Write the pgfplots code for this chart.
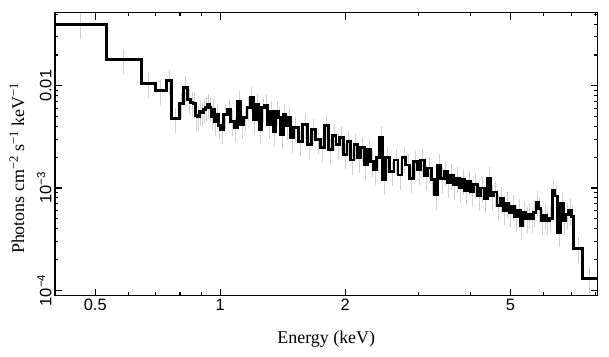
\documentclass[border=0pt]{standalone}
\usepackage{fontspec}
\setmainfont{Liberation Serif}
\newfontfamily\tickfont{Liberation Sans}
\usepackage{pgfplots}
\pgfplotsset{compat=1.18}
\usepackage{pgfplotstable}

\pgfplotstableread{
xl xc y
0.400 0.461 0.0400
0.531 0.585 0.0180
0.645 0.670 0.0106
0.697 0.719 0.0090
0.741 0.753 0.0112
0.765 0.781 0.00478
0.798 0.806 0.00667
0.814 0.824 0.0097
0.834 0.842 0.00729
0.85 0.855 0.00681
0.86 0.865 0.00667
0.87 0.875 0.00508
0.88 0.885 0.00497
0.89 0.895 0.00556
0.90 0.905 0.00543
0.91 0.915 0.00582
0.92 0.925 0.00608
0.93 0.935 0.00651
0.94 0.945 0.00608
0.95 0.955 0.00497
0.96 0.965 0.00582
0.97 0.975 0.00444
0.98 0.985 0.00520
0.99 0.995 0.00406
1.00 1.01 0.00371
1.02 1.03 0.00520
1.04 1.05 0.00582
1.06 1.07 0.00444
1.08 1.09 0.00388
1.10 1.11 0.00697
1.12 1.13 0.00415
1.14 1.15 0.00486
1.16 1.17 0.00608
1.18 1.19 0.00762
1.20 1.21 0.00464
1.22 1.23 0.00651
1.24 1.25 0.00371
1.26 1.27 0.00608
1.28 1.29 0.00637
1.30 1.31 0.00415
1.32 1.33 0.00556
1.34 1.35 0.00354
1.36 1.37 0.00556
1.38 1.39 0.00486
1.40 1.41 0.00331
1.42 1.43 0.00520
1.44 1.45 0.00406
1.46 1.47 0.00486
1.48 1.49 0.00309
1.50 1.52 0.00388
1.54 1.56 0.00283
1.58 1.60 0.00415
1.62 1.64 0.00264
1.66 1.68 0.00371
1.70 1.72 0.00296
1.74 1.76 0.00247
1.78 1.80 0.00406
1.82 1.84 0.00236
1.86 1.88 0.00324
1.90 1.92 0.00264
1.94 1.96 0.00309
1.98 2.00 0.00211
2.02 2.04 0.00283
2.06 2.08 0.00188
2.10 2.12 0.00264
2.14 2.16 0.00197
2.18 2.20 0.00247
2.22 2.24 0.00168
2.26 2.28 0.00236
2.30 2.32 0.00180
2.34 2.36 0.00150
2.38 2.40 0.00197
2.42 2.44 0.00309
2.46 2.48 0.00120
2.50 2.53 0.00197
2.56 2.59 0.00144
2.62 2.65 0.00188
2.68 2.71 0.00134
2.74 2.77 0.00197
2.80 2.83 0.00168
2.86 2.89 0.00125
2.92 2.95 0.00180
2.98 3.01 0.00150
3.04 3.07 0.00188
3.10 3.13 0.00131
3.16 3.19 0.00157
3.22 3.25 0.00120
3.28 3.31 0.000854
3.34 3.37 0.00168
3.40 3.43 0.00125
3.46 3.49 0.00144
3.52 3.55 0.00112
3.58 3.61 0.00134
3.64 3.67 0.00107
3.70 3.73 0.00125
3.76 3.79 0.00100
3.82 3.85 0.00120
3.88 3.91 0.000955
3.94 3.97 0.00115
4.00 4.04 0.000914
4.08 4.12 0.00109
4.16 4.20 0.000835
4.24 4.28 0.00100
4.32 4.36 0.000798
4.40 4.44 0.00125
4.48 4.52 0.000835
4.56 4.60 0.000914
4.64 4.68 0.000681
4.72 4.76 0.000798
4.80 4.84 0.000608
4.88 4.92 0.000713
4.96 5.00 0.000582
5.04 5.08 0.000667
5.12 5.16 0.000531
5.20 5.24 0.000608
5.28 5.32 0.000434
5.36 5.40 0.000582
5.44 5.48 0.000508
5.52 5.56 0.000556
5.60 5.64 0.000508
5.68 5.72 0.000582
5.76 5.80 0.000729
5.84 5.88 0.000637
5.92 5.96 0.000485
6.0 6.05 0.000543
6.1 6.15 0.000485
6.2 6.25 0.000508
6.3 6.35 0.000955
6.4 6.45 0.000835
6.5 6.55 0.000371
6.6 6.65 0.000713
6.7 6.75 0.000485
6.8 6.85 0.000556
6.9 6.95 0.000608
7.0 7.05 0.000531
7.1 7.27 0.000258
7.45 7.76 0.000131
8.1 nan 0.000131
}\spec

\begin{document}
\begin{tikzpicture}
\useasboundingbox (-55bp,-61.5bp) rectangle (554bp,295.5bp);
\begin{axis}[
  at={(0,0)}, anchor=south west,
  scale only axis, width=542.5bp, height=283bp,
  xmode=log, ymode=log,
  xmin=0.4, xmax=8.1, ymin=8.9e-5, ymax=0.052,
  axis line style={line width=1.6pt},
  tick style={line width=1.1pt, black},
  tick align=inside, tick pos=both,
  major tick length=7bp, minor tick length=3.5bp,
  xtick={0.5,1,2,5}, xticklabels={0.5,1,2,5},
  minor xtick={0.4,0.6,0.7,0.8,0.9,3,4,6,7,8},
  ytick={1e-4,1e-3,1e-2},
  yticklabels={10\textsuperscript{−4},10\textsuperscript{−3},0.01},
  minor ytick={2e-4,3e-4,4e-4,5e-4,6e-4,7e-4,8e-4,9e-4,2e-3,3e-3,4e-3,5e-3,6e-3,7e-3,8e-3,9e-3,2e-2,3e-2,4e-2,5e-2},
  ticklabel style={font=\fontsize{16.5}{18}\selectfont\tickfont},
  yticklabel style={rotate=90, anchor=south},
  xlabel={Energy (keV)},
  ylabel={Photons cm\textsuperscript{−2} s\textsuperscript{−1} keV\textsuperscript{−1}},
  label style={font=\fontsize{18}{20}\selectfont},
  xlabel style={at={(axis description cs:0.5,-0.168)}, anchor=base},
  ylabel style={at={(axis description cs:-0.057,0.45)}, anchor=base},
]
\addplot[draw=none, forget plot, error bars/.cd, y dir=both, y fixed relative=0.28,
  error mark=none, error bar style={draw=black!18, line width=0.7pt}]
  table[x=xc, y=y] {\spec};
\addplot[const plot, black, line width=2.9pt, line join=miter] table[x=xl, y=y] {\spec};
\end{axis}
\end{tikzpicture}
\end{document}
